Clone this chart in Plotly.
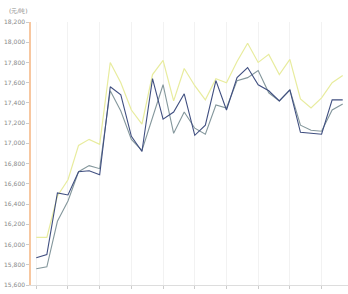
import plotly.graph_objects as go

categories = [f"{m:02d}-{d:02d}" for m, d in [
    (1, 2), (1, 9), (1, 16), (1, 23), (1, 30), (2, 6), (2, 13), (2, 20), (2, 27), (3, 6),
    (3, 13), (3, 20), (3, 27), (4, 3), (4, 10), (4, 17), (4, 24), (5, 1), (5, 8), (5, 15),
    (5, 22), (5, 29), (6, 5), (6, 12), (6, 19), (6, 26), (7, 3), (7, 10), (7, 17), (7, 24)]]

series_yellow = [16070, 16070, 16480, 16640, 16980, 17040, 16990, 17800, 17600, 17330,
                 17190, 17680, 17820, 17420, 17740, 17570, 17430, 17640, 17600, 17810,
                 17990, 17800, 17880, 17680, 17830, 17440, 17350, 17450, 17600, 17670]
series_navy = [15870, 15900, 16510, 16490, 16720, 16730, 16690, 17560, 17480, 17070,
               16920, 17640, 17240, 17310, 17490, 17080, 17180, 17620, 17330, 17650,
               17750, 17580, 17520, 17420, 17530, 17110, 17100, 17090, 17430, 17430]
series_grey = [15760, 15780, 16230, 16430, 16720, 16780, 16750, 17520, 17320, 17040,
               16930, 17260, 17580, 17100, 17310, 17150, 17090, 17380, 17350, 17620,
               17650, 17720, 17500, 17420, 17530, 17180, 17130, 17120, 17330, 17390]

y_ticks = list(range(15600, 18201, 200))
x_tick_idx = list(range(0, 30, 3))
unit_label = "(元/吨)"

fig = go.Figure()
fig.add_trace(go.Scatter(x=categories, y=series_yellow, mode="lines",
                         line=dict(color="#e8ec9e", width=1.2)))
fig.add_trace(go.Scatter(x=categories, y=series_grey, mode="lines",
                         line=dict(color="#84979c", width=1.1)))
fig.add_trace(go.Scatter(x=categories, y=series_navy, mode="lines",
                         line=dict(color="#404f80", width=1.1)))

fig.update_layout(
    width=348, height=294,
    margin=dict(l=31, r=0, t=22, b=9, autoexpand=False),
    paper_bgcolor="white", plot_bgcolor="white",
    showlegend=False,
    font=dict(family="DejaVu Sans", size=6, color="#888888"),
    xaxis=dict(type="category", range=[-0.5, 29.5], automargin=False,
               tickmode="array", tickvals=[categories[i] for i in x_tick_idx],
               showgrid=True, gridcolor="#f2f2f2", gridwidth=1,
               showline=True, linecolor="#dddddd", linewidth=1,
               ticks="outside", ticklen=3, tickcolor="#cccccc",
               ticklabelstandoff=5,
               tickfont=dict(size=6, color="#999999"), zeroline=False),
    yaxis=dict(range=[15600, 18200], tickvals=y_ticks, automargin=False,
               tickformat=",d", showgrid=False,
               showline=True, linecolor="#f7c7a0", linewidth=1.5,
               ticks="outside", ticklen=3, tickcolor="#cccccc",
               tickfont=dict(size=6, color="#888888"), zeroline=False),
)
fig.add_annotation(text=unit_label, xref="paper", yref="paper",
                   x=-0.075, y=1.0, yshift=12, xanchor="left", yanchor="middle",
                   showarrow=False, font=dict(size=6, color="#888888"))

fig.write_html("out.html")
